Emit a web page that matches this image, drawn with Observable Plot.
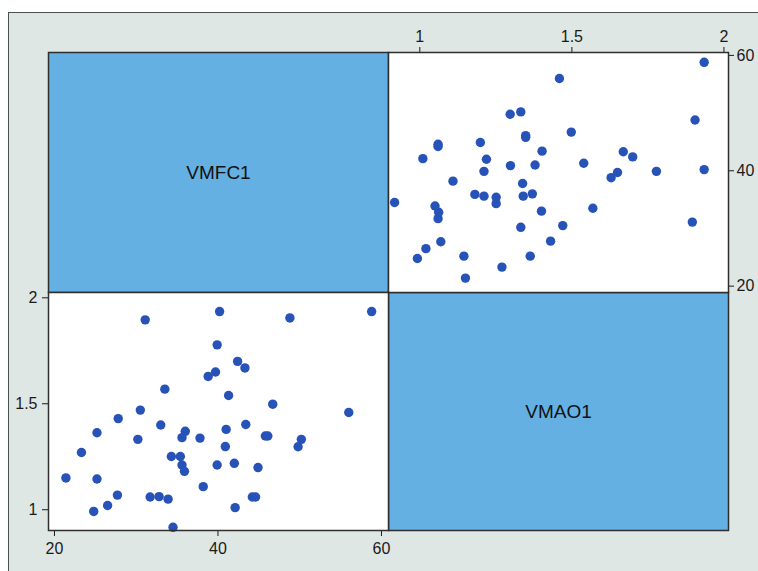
<!DOCTYPE html>
<html>
<head>
<meta charset="utf-8">
<script src="https://cdn.jsdelivr.net/npm/d3@7"></script>
<script src="https://cdn.jsdelivr.net/npm/@observablehq/plot@0.6"></script>
<style>
  html, body { margin: 0; padding: 0; background: #ffffff; }
  #chart { position: relative; width: 758px; height: 571px; overflow: hidden; background: #ffffff; font-family: "Liberation Sans", Arial, Helvetica, sans-serif; }
  #bg { position: absolute; left: 8px; top: 12px; width: 760px; height: 570px; background: #dfe7e5; border-left: 1.5px solid #4a4f4f; border-top: 1.5px solid #4a4f4f; }
  #chart svg { position: absolute; left: 0; top: 0; }
</style>
</head>
<body>
<div id="chart"><div id="bg"></div></div>
<script>
// Variable names
const varNames = ["VMFC1", "VMAO1"];
// VMFC1 values (one per subject)
const vmfc1 = [21.4, 23.3, 25.2, 25.2, 24.8, 26.5, 27.7, 27.8, 30.5, 30.2, 31.1, 31.7, 32.8, 33.9,
  33.5, 33.0, 34.3, 35.4, 34.5, 35.6, 35.9, 35.6, 36.0, 37.8, 38.2, 38.8, 39.7, 39.9, 40.2, 39.9,
  41.0, 40.9, 41.3, 42.0, 42.1, 42.4, 43.3, 43.4, 44.2, 44.6, 44.9, 45.8, 46.1, 46.7, 48.8, 49.8,
  50.2, 56.0, 58.8];
// VMAO1 values (same subjects)
const vmao1 = [1.150, 1.270, 1.363, 1.145, 0.992, 1.020, 1.069, 1.430, 1.470, 1.332, 1.896, 1.060,
  1.062, 1.050, 1.569, 1.400, 1.251, 1.251, 0.917, 1.211, 1.181, 1.340, 1.370, 1.338, 1.109, 1.629,
  1.650, 1.778, 1.935, 1.211, 1.379, 1.298, 1.539, 1.219, 1.010, 1.700, 1.669, 1.402, 1.060, 1.060,
  1.199, 1.348, 1.348, 1.498, 1.905, 1.297, 1.332, 1.459, 1.935];
// Tick labels
const ticksVMFC = [20, 40, 60];
const ticksVMAO = [1, 1.5, 2];

const data = vmfc1.map((v, i) => ({vmfc: v, vmao: vmao1[i]}));

const W = 758, H = 571;
const L = 48, M = 388, R = 728, T = 52, C = 292, B = 530;
const blue = "#64b0e2", dotColor = "#2752b8", ink = "#1a1a1a", edge = "#2e2e2e";
const fmt = d => String(d);
const common = {
  width: W, height: H,
  style: {background: "transparent", fontSize: "16px", color: ink, fontFamily: '"Liberation Sans", Arial, Helvetica, sans-serif', overflow: "visible"}
};

function labelPanel(name, ml, mr, mt, mb) {
  return Plot.plot({
    ...common,
    marginLeft: ml, marginRight: mr, marginTop: mt, marginBottom: mb,
    x: {domain: [0, 1], axis: null},
    y: {domain: [0, 1], axis: null},
    marks: [
      Plot.frame({fill: blue, stroke: edge, strokeWidth: 1.5}),
      Plot.text([name], {frameAnchor: "middle", text: d => d, fontSize: 19, fill: "#111"})
    ]
  });
}

const chart = document.getElementById("chart");

// Top-left diagonal: VMFC1
chart.appendChild(labelPanel(varNames[0], L, W - M, T, H - C));
// Bottom-right diagonal: VMAO1
chart.appendChild(labelPanel(varNames[1], M, W - R, C, H - B));

// Top-right: x = VMAO1, y = VMFC1
chart.appendChild(Plot.plot({
  ...common,
  marginLeft: M, marginRight: W - R, marginTop: T, marginBottom: H - C,
  x: {domain: [0.897, 2.015], axis: "top", ticks: ticksVMAO, tickFormat: fmt, tickSize: 6, tickPadding: 5, label: null},
  y: {domain: [18.9, 60.5], axis: "right", ticks: ticksVMFC, tickFormat: fmt, tickSize: 5, tickPadding: 3, label: null},
  marks: [
    Plot.frame({fill: "white"}),
    Plot.dot(data, {x: "vmao", y: "vmfc", r: 4.7, fill: dotColor, stroke: "none"}),
    Plot.frame({stroke: edge, strokeWidth: 1.5})
  ]
}));

// Bottom-left: x = VMFC1, y = VMAO1
chart.appendChild(Plot.plot({
  ...common,
  marginLeft: L, marginRight: W - M, marginTop: C, marginBottom: H - B,
  x: {domain: [19.27, 60.86], axis: "bottom", ticks: ticksVMFC, tickFormat: fmt, tickSize: 6, tickPadding: 6, label: null},
  y: {domain: [0.902, 2.025], axis: "left", ticks: ticksVMAO, tickFormat: fmt, tickSize: 6, tickPadding: 5, label: null},
  marks: [
    Plot.frame({fill: "white"}),
    Plot.dot(data, {x: "vmfc", y: "vmao", r: 4.7, fill: dotColor, stroke: "none"}),
    Plot.frame({stroke: edge, strokeWidth: 1.5})
  ]
}));
</script>
</body>
</html>
